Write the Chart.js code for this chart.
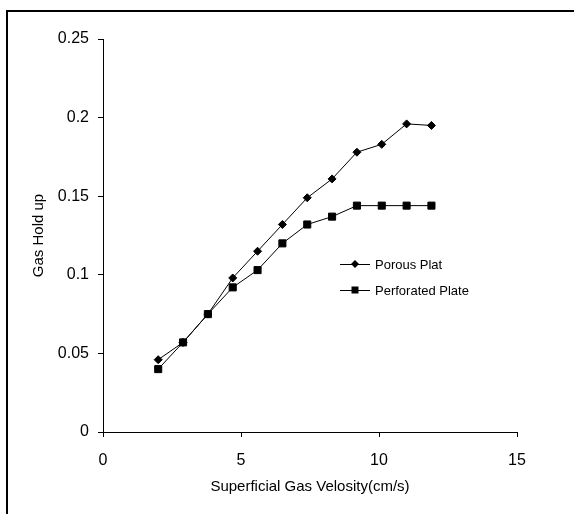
<!DOCTYPE html>
<html>
<head>
<meta charset="utf-8">
<script src="https://cdn.jsdelivr.net/npm/chart.js@4.4.1/dist/chart.umd.min.js"></script>
<style>
  html, body { margin: 0; padding: 0; background: #fff; overflow: hidden; }
  #wrap { position: relative; width: 574px; height: 514px; overflow: hidden; }
  #frame { position: absolute; left: 6px; top: 10px; width: 700px; height: 700px;
           border-left: 2px solid #000; border-top: 2px solid #000; }
  #grafica { position: absolute; left: 0; top: 0; }
</style>
</head>
<body>
<div id="wrap">
  <div id="frame"></div>
  <canvas id="grafica" width="574" height="514"></canvas>
</div>
<script>
// Datos
const velocidad = [2, 2.9, 3.8, 4.7, 5.6, 6.5, 7.4, 8.3, 9.2, 10.1, 11, 11.9];
const porous = [0.046, 0.057, 0.075, 0.098, 0.115, 0.132, 0.149, 0.161, 0.178, 0.183, 0.196, 0.195];
const perforated = [0.040, 0.057, 0.075, 0.092, 0.103, 0.120, 0.132, 0.137, 0.144, 0.144, 0.144, 0.144];
const seriesNames = ['Porous Plat', 'Perforated Plate'];
const xTicks = ['0', '5', '10', '15'];
const yTicks = ['0', '0.05', '0.1', '0.15', '0.2', '0.25'];

const FONT = '"Liberation Sans", Arial, sans-serif';

// Leyenda dibujada dentro del area del grafico
const leyendaPlugin = {
    id: 'leyenda',
    afterDraw(chart) {
        const ctx = chart.ctx;
        ctx.save();
        chart.data.datasets.forEach((ds, i) => {
            const y = 264 + i * 26;
            ctx.strokeStyle = '#000';
            ctx.lineWidth = 1;
            ctx.beginPath();
            ctx.moveTo(340, y + 0.5);
            ctx.lineTo(370, y + 0.5);
            ctx.stroke();
            ctx.fillStyle = '#000';
            ctx.beginPath();
            if (ds.pointStyle === 'rectRot') {
                ctx.moveTo(355, y - 4);
                ctx.lineTo(359, y);
                ctx.lineTo(355, y + 4);
                ctx.lineTo(351, y);
            } else {
                ctx.rect(351.5, y - 3.5, 7, 7);
            }
            ctx.closePath();
            ctx.fill();
            ctx.font = '13px ' + FONT;
            ctx.textBaseline = 'middle';
            ctx.textAlign = 'left';
            ctx.fillText(ds.label, 375, y + 1);
        });
        ctx.restore();
    }
};

const ctx = document.getElementById('grafica').getContext('2d');
new Chart(ctx, {
    type: 'line',
    data: {
        datasets: [
            {
                label: seriesNames[0],
                data: velocidad.map((v, i) => ({ x: v, y: porous[i] })),
                borderColor: '#000',
                backgroundColor: '#000',
                borderWidth: 1,
                pointStyle: 'rectRot',
                pointRadius: 4,
                tension: 0
            },
            {
                label: seriesNames[1],
                data: velocidad.map((v, i) => ({ x: v, y: perforated[i] })),
                borderColor: '#000',
                backgroundColor: '#000',
                borderWidth: 1,
                pointStyle: 'rect',
                pointRadius: 5,
                tension: 0
            }
        ]
    },
    options: {
        responsive: false,
        animation: false,
        layout: { padding: { left: 30, top: 39, right: 57, bottom: 18 } },
        scales: {
            x: {
                type: 'linear',
                min: 0,
                max: 15,
                afterFit: (scale) => { scale.height = 64; },
                border: { display: true, color: '#000', width: 1 },
                grid: { drawOnChartArea: false, drawTicks: true, tickLength: 5, color: '#000' },
                ticks: {
                    stepSize: 5,
                    color: '#000',
                    padding: 14,
                    maxRotation: 0,
                    font: { family: FONT, size: 16 },
                    callback: (v) => xTicks[v / 5]
                },
                title: {
                    display: true,
                    text: 'Superficial Gas Velosity(cm/s)',
                    color: '#000',
                    padding: 0,
                    font: { family: FONT, size: 15 }
                }
            },
            y: {
                min: 0,
                max: 0.25,
                afterFit: (scale) => { scale.width = 73; },
                border: { display: true, color: '#000', width: 1 },
                grid: { drawOnChartArea: false, drawTicks: true, tickLength: 5, color: '#000' },
                ticks: {
                    stepSize: 0.05,
                    color: '#000',
                    padding: 9,
                    font: { family: FONT, size: 16 },
                    callback: (v) => yTicks[Math.round(v / 0.05)]
                },
                title: {
                    display: true,
                    text: 'Gas Hold up',
                    color: '#000',
                    padding: 0,
                    font: { family: FONT, size: 15 }
                }
            }
        },
        plugins: {
            legend: { display: false },
            tooltip: { enabled: false }
        }
    },
    plugins: [leyendaPlugin]
});
</script>
</body>
</html>
